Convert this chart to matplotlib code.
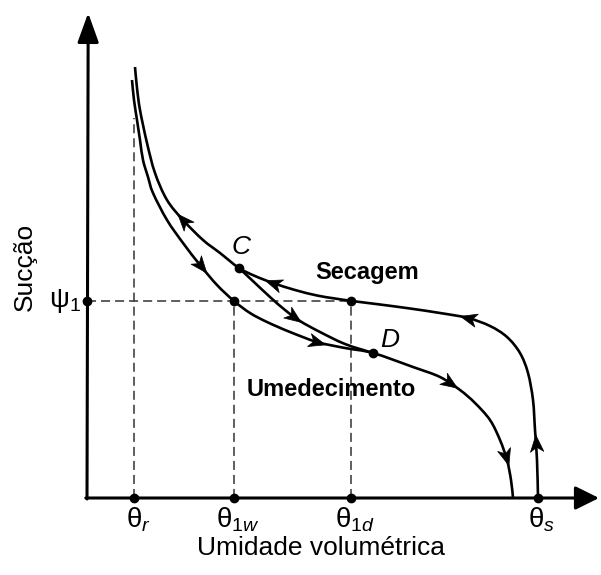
import numpy as np
import matplotlib
matplotlib.use("Agg")
import matplotlib.pyplot as plt
from matplotlib.path import Path
from matplotlib.markers import MarkerStyle
from matplotlib.transforms import Affine2D
from matplotlib.patches import FancyArrowPatch, PathPatch

plt.rcParams['font.family'] = ['Liberation Sans', 'DejaVu Sans']
plt.rcParams['mathtext.fontset'] = 'custom'
plt.rcParams['mathtext.rm'] = 'Liberation Sans'
plt.rcParams['mathtext.it'] = 'Liberation Sans:italic'
plt.rcParams['mathtext.bf'] = 'Liberation Sans:bold'
plt.rcParams['lines.scale_dashes'] = False

# Characteristic moisture contents (m3/m3) and suction level (arbitrary units)
theta_r = 0.047
theta_1w = 0.147
theta_1d = 0.264
theta_s = 0.451
psi_1 = 1.97
psi_top_r = 3.80

# Main drying curve, listed in the drying direction (from saturation upward)
dry_theta = [0.451, 0.450, 0.448, 0.446, 0.441, 0.433, 0.420, 0.403, 0.381,
             0.353, 0.323, 0.293, 0.265, 0.248, 0.230, 0.208, 0.186, 0.168,
             0.152, 0.133, 0.116, 0.096, 0.080, 0.068, 0.060, 0.053, 0.050,
             0.048]
dry_psi = [0.00, 0.38, 0.68, 0.98, 1.25, 1.45, 1.61, 1.72, 1.80,
           1.85, 1.895, 1.935, 1.97, 1.995, 2.025, 2.08, 2.15, 2.22,
           2.30, 2.45, 2.58, 2.78, 2.98, 3.25, 3.55, 3.88, 4.10,
           4.31]

# Main wetting curve, listed in the wetting direction (from dry toward saturation)
wet_theta = [0.045, 0.047, 0.050, 0.053, 0.056, 0.061, 0.066, 0.080, 0.096,
             0.113, 0.130, 0.147, 0.163, 0.180, 0.203, 0.230, 0.258, 0.286,
             0.326, 0.353, 0.373, 0.388, 0.403, 0.413, 0.420, 0.424, 0.426]
wet_psi = [4.18, 3.98, 3.78, 3.58, 3.38, 3.21, 3.05, 2.78, 2.55,
           2.33, 2.13, 1.97, 1.85, 1.76, 1.66, 1.56, 1.50, 1.45,
           1.31, 1.21, 1.08, 0.95, 0.78, 0.58, 0.38, 0.18, 0.00]

# Wetting scanning curve from C to D
scan_theta = [0.152, 0.168, 0.183, 0.198, 0.213, 0.233, 0.258, 0.286]
scan_psi = [2.30, 2.15, 2.01, 1.88, 1.77, 1.66, 1.54, 1.45]

point_C = (0.152, 2.30)
point_D = (0.286, 1.45)

fig = plt.figure(figsize=(6.01, 5.75), dpi=100)
ax = fig.add_axes([0, 0, 1, 1])
ax.set_xlim(-0.087, 0.514)
ax.set_ylim(-0.77, 4.98)
ax.axis('off')

# Axes drawn as arrows
ax.add_patch(FancyArrowPatch((0.0, -0.01), (0.0012, 4.85),
                             arrowstyle='-|>,head_length=1.8,head_width=0.65',
                             mutation_scale=10, lw=2.2, color='black',
                             shrinkA=0, shrinkB=0, clip_on=False, zorder=4))
ax.add_patch(FancyArrowPatch((-0.0012, 0.0), (0.512, 0.0),
                             arrowstyle='-|>,head_length=1.45,head_width=0.72',
                             mutation_scale=10, lw=2.2, color='black',
                             shrinkA=0, shrinkB=0, clip_on=False, zorder=4))

# Dashed guide lines
dash_kw = dict(color='#333333', lw=1.1, dashes=(6.5, 3.6), zorder=1)
ax.plot([theta_r, theta_r], [0, psi_top_r], **dash_kw)
ax.plot([theta_1w, theta_1w], [0, psi_1], **dash_kw)
ax.plot([theta_1d, theta_1d], [0, psi_1], **dash_kw)
ax.plot([0, theta_1d], [psi_1, psi_1], **dash_kw)


def smooth_path(xs, ys):
    """Cubic Bezier path passing through every given point (Catmull-Rom)."""
    P = np.column_stack([xs, ys]).astype(float)
    n = len(P)
    verts = [P[0]]
    codes = [Path.MOVETO]
    for i in range(n - 1):
        p0 = P[i - 1] if i > 0 else P[i]
        p1, p2 = P[i], P[i + 1]
        p3 = P[i + 2] if i + 2 < n else P[i + 1]
        verts += [p1 + (p2 - p0) / 6.0, p2 - (p3 - p1) / 6.0, p2]
        codes += [Path.CURVE4] * 3
    return Path(np.array(verts), codes)


head = Path([(1.0, 0.0), (-1.0, 0.8), (-0.45, 0.0), (-1.0, -0.8), (1.0, 0.0)],
            [Path.MOVETO, Path.LINETO, Path.LINETO, Path.LINETO, Path.CLOSEPOLY])


def draw_curve(xs, ys, targets):
    path = smooth_path(xs, ys)
    ax.add_patch(PathPatch(path, fill=False, lw=1.9, edgecolor='black',
                           joinstyle='round', capstyle='butt', zorder=3))
    # dense sampling of the drawn path in display space, for arrowheads
    disp = Path(ax.transData.transform(path.vertices), path.codes)
    dense = []
    for seg, _ in disp.iter_bezier():
        dense.append(seg(np.linspace(0, 1, 30)))
    dense = np.vstack(dense)
    for tx, ty in targets:
        t = ax.transData.transform((tx, ty))
        k = int(np.argmin(np.hypot(*(dense - t).T)))
        k = min(max(k, 1), len(dense) - 2)
        d = dense[k + 1] - dense[k - 1]
        ang = np.degrees(np.arctan2(d[1], d[0]))
        m = MarkerStyle(head, transform=Affine2D().rotate_deg(ang))
        px, py = ax.transData.inverted().transform(dense[k])
        ax.plot([px], [py], marker=m, ms=12, color='black', ls='none',
                mew=0.5, zorder=5)


draw_curve(dry_theta, dry_psi, [(0.450, 0.55), (0.381, 1.80),
                                (0.186, 2.15), (0.096, 2.78)])
draw_curve(wet_theta, wet_psi, [(0.113, 2.32), (0.230, 1.56),
                                (0.363, 1.15), (0.418, 0.41)])
draw_curve(scan_theta, scan_psi, [(0.206, 1.80)])

# Marked points
dot_kw = dict(marker='o', ms=6, color='black', ls='none', zorder=6, clip_on=False)
ax.plot([theta_r, theta_1w, theta_1d, theta_s], [0, 0, 0, 0], **dot_kw)
ax.plot([0], [psi_1], **dot_kw)
ax.plot([theta_1w, theta_1d], [psi_1, psi_1], **dot_kw)
ax.plot([point_C[0], point_D[0]], [point_C[1], point_D[1]], **dot_kw)

# Tick labels
tick_labels = [r'$\mathrm{\theta}_{r}$', r'$\mathrm{\theta}_{1w}$',
               r'$\mathrm{\theta}_{1d}$', r'$\mathrm{\theta}_{s}$']
for th, lab in zip([theta_r, theta_1w, theta_1d, theta_s], tick_labels):
    ax.text(th + 0.004, -0.22, lab, fontsize=20, ha='center', va='center')
ax.text(-0.006, psi_1, r'$\mathrm{\psi}_1$', fontsize=20, ha='right', va='center')

# Annotations
ax.text(point_C[0] + 0.002, 2.51, 'C', fontsize=19, style='italic',
        ha='center', va='center')
ax.text(point_D[0] + 0.017, 1.58, 'D', fontsize=19, style='italic',
        ha='center', va='center')
ax.text(0.280, 2.26, 'Secagem', fontsize=17, fontweight='bold',
        ha='center', va='center')
ax.text(0.244, 1.08, 'Umedecimento', fontsize=17, fontweight='bold',
        ha='center', va='center')

# Axis titles
ax.text(0.234, -0.50, 'Umidade volumétrica', fontsize=19, ha='center', va='center')
ax.text(-0.062, 2.31, 'Sucção', fontsize=19, rotation=90, ha='center', va='center')

fig.savefig('out.png', dpi=100)
